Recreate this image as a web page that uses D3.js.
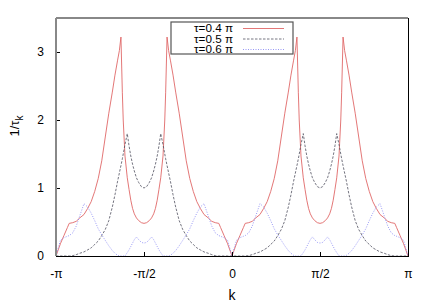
<!DOCTYPE html>
<html>
<head>
<meta charset="utf-8">
<script src="https://cdn.jsdelivr.net/npm/d3@7/dist/d3.min.js"></script>
<style>
  body { margin: 0; background: #fff; }
  text { font-family: "Liberation Sans", Arial, sans-serif; fill: #000; }
</style>
</head>
<body>
<div id="root"></div>
<script>
// k in units of pi
const kGrid = [
  -1.000, -0.975, -0.955, -0.935, -0.925, -0.905, -0.885, -0.865, -0.841, -0.820, -0.800,
  -0.780, -0.760, -0.740, -0.720, -0.700, -0.680, -0.665, -0.650, -0.640, -0.631, -0.623,
  -0.618, -0.608, -0.595, -0.585, -0.575, -0.565, -0.555, -0.543, -0.530, -0.515, -0.500,
  -0.485, -0.470, -0.457, -0.445, -0.435, -0.425, -0.415, -0.405, -0.392, -0.382, -0.377,
  -0.369, -0.360, -0.350, -0.335, -0.320, -0.300, -0.280, -0.260, -0.240, -0.220, -0.200,
  -0.180, -0.159, -0.135, -0.115, -0.095, -0.075, -0.065, -0.045, -0.025, 0.000,
  0.025, 0.045, 0.065, 0.075, 0.095, 0.115, 0.135, 0.159, 0.180, 0.200, 0.220,
  0.240, 0.260, 0.280, 0.300, 0.320, 0.335, 0.350, 0.360, 0.369, 0.377, 0.382,
  0.392, 0.405, 0.415, 0.425, 0.435, 0.445, 0.457, 0.470, 0.485, 0.500,
  0.515, 0.530, 0.543, 0.555, 0.565, 0.575, 0.585, 0.595, 0.608, 0.618, 0.623,
  0.631, 0.640, 0.650, 0.665, 0.680, 0.700, 0.720, 0.740, 0.760, 0.780, 0.800,
  0.820, 0.841, 0.865, 0.885, 0.905, 0.925, 0.935, 0.955, 0.975, 1.000
];

const tau04 = [
  0, 0.18, 0.30, 0.42, 0.48, 0.49, 0.51, 0.56, 0.61, 0.70, 0.80,
  0.95, 1.14, 1.40, 1.75, 2.10, 2.41, 2.66, 2.88, 3.02, 3.22, 2.40,
  2.00, 1.47, 1.15, 0.98, 0.82, 0.70, 0.62, 0.56, 0.52, 0.49, 0.48,
  0.49, 0.52, 0.56, 0.62, 0.70, 0.82, 0.98, 1.15, 1.47, 2.00, 2.40,
  3.22, 3.02, 2.88, 2.66, 2.41, 2.10, 1.75, 1.40, 1.14, 0.95, 0.80,
  0.70, 0.61, 0.56, 0.51, 0.49, 0.48, 0.42, 0.30, 0.18, 0,
  0.18, 0.30, 0.42, 0.48, 0.49, 0.51, 0.56, 0.61, 0.70, 0.80, 0.95,
  1.14, 1.40, 1.75, 2.10, 2.41, 2.66, 2.88, 3.02, 3.22, 2.40, 2.00,
  1.47, 1.15, 0.98, 0.82, 0.70, 0.62, 0.56, 0.52, 0.49, 0.48,
  0.49, 0.52, 0.56, 0.62, 0.70, 0.82, 0.98, 1.15, 1.47, 2.00, 2.40,
  3.22, 3.02, 2.88, 2.66, 2.41, 2.10, 1.75, 1.40, 1.14, 0.95, 0.80,
  0.70, 0.61, 0.56, 0.51, 0.49, 0.48, 0.42, 0.30, 0.18, 0
];

const tau05 = [
  0, 0, 0, 0, 0, 0.005, 0.02, 0.04, 0.06, 0.09, 0.12,
  0.17, 0.22, 0.30, 0.39, 0.52, 0.72, 0.90, 1.10, 1.22, 1.33, 1.43,
  1.50, 1.64, 1.80, 1.62, 1.47, 1.35, 1.25, 1.15, 1.08, 1.02, 1.00,
  1.02, 1.08, 1.15, 1.25, 1.35, 1.47, 1.62, 1.80, 1.64, 1.50, 1.43,
  1.33, 1.22, 1.10, 0.90, 0.72, 0.52, 0.39, 0.30, 0.22, 0.17, 0.12,
  0.09, 0.06, 0.04, 0.02, 0.005, 0, 0, 0, 0, 0,
  0, 0, 0, 0, 0.005, 0.02, 0.04, 0.06, 0.09, 0.12, 0.17,
  0.22, 0.30, 0.39, 0.52, 0.72, 0.90, 1.10, 1.22, 1.33, 1.43, 1.50,
  1.64, 1.80, 1.62, 1.47, 1.35, 1.25, 1.15, 1.08, 1.02, 1.00,
  1.02, 1.08, 1.15, 1.25, 1.35, 1.47, 1.62, 1.80, 1.64, 1.50, 1.43,
  1.33, 1.22, 1.10, 0.90, 0.72, 0.52, 0.39, 0.30, 0.22, 0.17, 0.12,
  0.09, 0.06, 0.04, 0.02, 0.005, 0, 0, 0, 0, 0
];

const tau06 = [
  0, 0.23, 0.27, 0.29, 0.30, 0.34, 0.44, 0.59, 0.77, 0.72, 0.63,
  0.52, 0.40, 0.31, 0.23, 0.15, 0.08, 0.04, 0.01, 0, 0, 0,
  0, 0, 0.05, 0.09, 0.14, 0.19, 0.24, 0.28, 0.24, 0.20, 0.19,
  0.20, 0.24, 0.28, 0.24, 0.19, 0.14, 0.09, 0.05, 0, 0, 0,
  0, 0, 0.01, 0.04, 0.08, 0.15, 0.23, 0.31, 0.40, 0.52, 0.63,
  0.72, 0.77, 0.59, 0.44, 0.34, 0.30, 0.29, 0.27, 0.23, 0,
  0.23, 0.27, 0.29, 0.30, 0.34, 0.44, 0.59, 0.77, 0.72, 0.63, 0.52,
  0.40, 0.31, 0.23, 0.15, 0.08, 0.04, 0.01, 0, 0, 0, 0,
  0, 0.05, 0.09, 0.14, 0.19, 0.24, 0.28, 0.24, 0.20, 0.19,
  0.20, 0.24, 0.28, 0.24, 0.19, 0.14, 0.09, 0.05, 0, 0, 0,
  0, 0, 0.01, 0.04, 0.08, 0.15, 0.23, 0.31, 0.40, 0.52, 0.63,
  0.72, 0.77, 0.59, 0.44, 0.34, 0.30, 0.29, 0.27, 0.23, 0
];

const seriesNames = ["τ=0.4 π", "τ=0.5 π", "τ=0.6 π"];
const xTicks = [-1, -0.5, 0, 0.5, 1];
const xTickLabels = ["-π", "-π/2", "0", "π/2", "π"];
const yTicks = [0, 1, 2, 3];

const series = [
  { name: seriesNames[0], values: tau04, color: "#e06868", width: 0.9, dash: null },
  { name: seriesNames[1], values: tau05, color: "#505060", width: 0.8, dash: "2.5,1.5" },
  { name: seriesNames[2], values: tau06, color: "#8c8cf4", width: 0.9, dash: "1,1.5" }
];

const W = 436, H = 305;
const margin = { left: 56, top: 18, right: 28, bottom: 49 };
const width = W - margin.left - margin.right;
const height = H - margin.top - margin.bottom;

const svg = d3.select("#root")
  .append("svg")
    .attr("width", W)
    .attr("height", H);

const g = svg.append("g")
  .attr("transform", `translate(${margin.left},${margin.top})`);

const xScale = d3.scaleLinear().domain([-1, 1]).range([0, width]);
const yScale = d3.scaleLinear().domain([0, 3.5]).range([height, 0]);

// curves
const lineCreator = d3.line()
  .x((d, i) => xScale(kGrid[i]))
  .y(d => yScale(d));

g.selectAll("path.curve")
  .data(series)
  .enter()
  .append("path")
    .attr("class", "curve")
    .attr("d", d => lineCreator(d.values))
    .attr("fill", "none")
    .attr("stroke", d => d.color)
    .attr("stroke-width", d => d.width)
    .attr("stroke-dasharray", d => d.dash);

// axes (inward ticks, gnuplot style)
const xAxis = g.append("g")
  .attr("transform", `translate(0,${height})`)
  .call(d3.axisBottom(xScale)
    .tickValues(xTicks)
    .tickSize(-4)
    .tickPadding(13)
    .tickFormat((d, i) => xTickLabels[i]));
const yAxis = g.append("g")
  .call(d3.axisLeft(yScale)
    .tickValues(yTicks)
    .tickSize(-4)
    .tickPadding(12)
    .tickFormat(d3.format("d")));

[xAxis, yAxis].forEach(a => {
  a.select(".domain").remove();
  a.selectAll("text").style("font-size", "12px").style("font-family", "'Liberation Sans', Arial, sans-serif");
  a.selectAll("line").attr("stroke", "#000");
});

// frame: left/top soft gray, right/bottom black
g.append("line").attr("x1", 0).attr("x2", 0).attr("y1", 0).attr("y2", height)
  .attr("stroke", "#888").attr("stroke-width", 2);
g.append("line").attr("x1", 0).attr("x2", width).attr("y1", 0).attr("y2", 0)
  .attr("stroke", "#888").attr("stroke-width", 2);
g.append("line").attr("x1", width + 0.5).attr("x2", width + 0.5).attr("y1", 0).attr("y2", height)
  .attr("stroke", "#000").attr("stroke-width", 1);
g.append("line").attr("x1", 0).attr("x2", width + 1).attr("y1", height + 0.5).attr("y2", height + 0.5)
  .attr("stroke", "#000").attr("stroke-width", 1);

// legend
const legend = svg.append("g").attr("transform", "translate(171,22)");
legend.append("rect")
  .attr("width", 122).attr("height", 32)
  .attr("fill", "#fff")
  .attr("stroke", "#555").attr("stroke-width", 1.2);
const rows = legend.selectAll("g.row")
  .data(series)
  .enter()
  .append("g")
    .attr("class", "row")
    .attr("transform", (d, i) => `translate(0,${6 + i * 10.5})`);
rows.append("text")
  .attr("x", 62)
  .attr("y", 4)
  .attr("text-anchor", "end")
  .style("font-size", "11px")
  .attr("textLength", 39)
  .attr("lengthAdjust", "spacingAndGlyphs")
  .text(d => d.name);
rows.append("line")
  .attr("x1", 72).attr("x2", 113)
  .attr("y1", 0.5).attr("y2", 0.5)
  .attr("stroke", d => d.color)
  .attr("stroke-width", d => d.width)
  .attr("stroke-dasharray", d => d.dash);

// axis titles
svg.append("text")
  .attr("x", margin.left + width / 2)
  .attr("y", 300)
  .attr("text-anchor", "middle")
  .style("font-size", "14px")
  .text("k");

const yTitle = svg.append("text")
  .attr("transform", `translate(19,${margin.top + 108})rotate(-90)`)
  .attr("text-anchor", "middle")
  .style("font-size", "13px");
yTitle.append("tspan").text("1/τ");
yTitle.append("tspan").attr("dy", 4).style("font-size", "10px").text("k");
</script>
</body>
</html>
